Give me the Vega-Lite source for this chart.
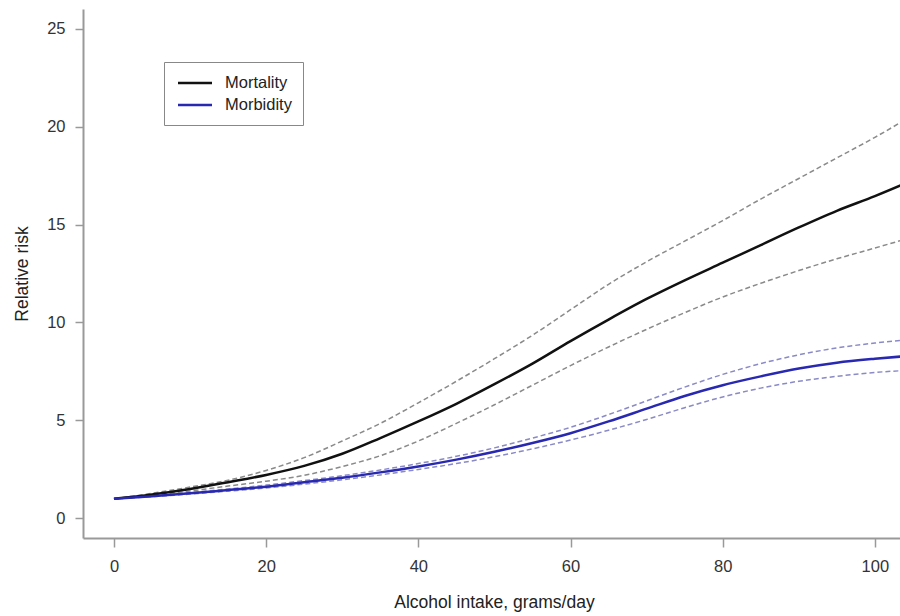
{
  "$schema": "https://vega.github.io/schema/vega-lite/v6.json",
  "width": 817,
  "height": 529,
  "autosize": {"type": "none"},
  "padding": {"left": 83, "top": 9, "right": 0, "bottom": 78},
  "background": "white",
  "config": {"view": {"stroke": null}, "font": "Liberation Sans"},
  "data": {
    "values": [
      {"dose": 0, "Mortality": 1.0, "Mortality upper": 1.0, "Mortality lower": 1.0, "Morbidity": 1.0, "Morbidity upper": 1.0, "Morbidity lower": 1.0},
      {"dose": 5, "Mortality": 1.22, "Mortality upper": 1.28, "Mortality lower": 1.18, "Morbidity": 1.13, "Morbidity upper": 1.15, "Morbidity lower": 1.11},
      {"dose": 10, "Mortality": 1.5, "Mortality upper": 1.6, "Mortality lower": 1.4, "Morbidity": 1.28, "Morbidity upper": 1.32, "Morbidity lower": 1.24},
      {"dose": 15, "Mortality": 1.85, "Mortality upper": 1.95, "Mortality lower": 1.65, "Morbidity": 1.45, "Morbidity upper": 1.5, "Morbidity lower": 1.39},
      {"dose": 20, "Mortality": 2.22, "Mortality upper": 2.45, "Mortality lower": 1.9, "Morbidity": 1.62, "Morbidity upper": 1.7, "Morbidity lower": 1.55},
      {"dose": 25, "Mortality": 2.68, "Mortality upper": 3.1, "Mortality lower": 2.2, "Morbidity": 1.85, "Morbidity upper": 1.93, "Morbidity lower": 1.75},
      {"dose": 30, "Mortality": 3.3, "Mortality upper": 3.95, "Mortality lower": 2.65, "Morbidity": 2.08, "Morbidity upper": 2.18, "Morbidity lower": 1.97},
      {"dose": 35, "Mortality": 4.1, "Mortality upper": 4.85, "Mortality lower": 3.2, "Morbidity": 2.35, "Morbidity upper": 2.47, "Morbidity lower": 2.22},
      {"dose": 40, "Mortality": 4.95, "Mortality upper": 5.9, "Mortality lower": 3.95, "Morbidity": 2.65, "Morbidity upper": 2.8, "Morbidity lower": 2.5},
      {"dose": 45, "Mortality": 5.85, "Mortality upper": 7.0, "Mortality lower": 4.85, "Morbidity": 3.0, "Morbidity upper": 3.17, "Morbidity lower": 2.8},
      {"dose": 50, "Mortality": 6.85, "Mortality upper": 8.15, "Mortality lower": 5.8, "Morbidity": 3.4, "Morbidity upper": 3.6, "Morbidity lower": 3.15},
      {"dose": 55, "Mortality": 7.9, "Mortality upper": 9.35, "Mortality lower": 6.8, "Morbidity": 3.85, "Morbidity upper": 4.1, "Morbidity lower": 3.55},
      {"dose": 60, "Mortality": 9.05, "Mortality upper": 10.65, "Mortality lower": 7.8, "Morbidity": 4.35, "Morbidity upper": 4.65, "Morbidity lower": 4.0},
      {"dose": 65, "Mortality": 10.15, "Mortality upper": 11.95, "Mortality lower": 8.75, "Morbidity": 4.95, "Morbidity upper": 5.3, "Morbidity lower": 4.5},
      {"dose": 70, "Mortality": 11.2, "Mortality upper": 13.1, "Mortality lower": 9.65, "Morbidity": 5.6, "Morbidity upper": 6.0, "Morbidity lower": 5.05},
      {"dose": 75, "Mortality": 12.15, "Mortality upper": 14.15, "Mortality lower": 10.5, "Morbidity": 6.25, "Morbidity upper": 6.7, "Morbidity lower": 5.65},
      {"dose": 80, "Mortality": 13.05, "Mortality upper": 15.2, "Mortality lower": 11.3, "Morbidity": 6.8, "Morbidity upper": 7.35, "Morbidity lower": 6.2},
      {"dose": 85, "Mortality": 13.95, "Mortality upper": 16.3, "Mortality lower": 12.0, "Morbidity": 7.25, "Morbidity upper": 7.9, "Morbidity lower": 6.65},
      {"dose": 90, "Mortality": 14.85, "Mortality upper": 17.35, "Mortality lower": 12.65, "Morbidity": 7.65, "Morbidity upper": 8.35, "Morbidity lower": 7.0},
      {"dose": 95, "Mortality": 15.7, "Mortality upper": 18.4, "Mortality lower": 13.25, "Morbidity": 7.95, "Morbidity upper": 8.7, "Morbidity lower": 7.25},
      {"dose": 100, "Mortality": 16.45, "Mortality upper": 19.45, "Mortality lower": 13.8, "Morbidity": 8.15, "Morbidity upper": 8.95, "Morbidity lower": 7.45},
      {"dose": 104, "Mortality": 17.1, "Mortality upper": 20.35, "Mortality lower": 14.25, "Morbidity": 8.28, "Morbidity upper": 9.1, "Morbidity lower": 7.55}
    ]
  },
  "transform": [
    {"fold": ["Mortality upper", "Mortality lower", "Morbidity upper", "Morbidity lower", "Mortality", "Morbidity"], "as": ["curve", "rr"]}
  ],
  "encoding": {
    "x": {
      "field": "dose",
      "type": "quantitative",
      "scale": {"domain": [-4.07, 103.3], "nice": false, "zero": false},
      "axis": {
        "values": [0, 20, 40, 60, 80, 100],
        "format": "d",
        "grid": false,
        "domainColor": "#999999",
        "domainWidth": 2,
        "tickColor": "#999999",
        "tickWidth": 1.5,
        "tickSize": 9,
        "labelFontSize": 16.5,
        "labelColor": "#333333",
        "labelPadding": 11.5,
        "labelFlush": false,
        "title": "Alcohol intake, grams/day",
        "titleFontSize": 17.5,
        "titleFontWeight": "normal",
        "titleColor": "#222222",
        "titleX": 411,
        "titleY": 69,
        "titleBaseline": "alphabetic"
      }
    },
    "y": {
      "field": "rr",
      "type": "quantitative",
      "scale": {"domain": [-1, 26], "nice": false, "zero": false},
      "axis": {
        "values": [0, 5, 10, 15, 20, 25],
        "grid": false,
        "domainColor": "#999999",
        "domainWidth": 2,
        "tickColor": "#999999",
        "tickWidth": 1.5,
        "tickSize": 8,
        "labelFontSize": 16.5,
        "labelColor": "#333333",
        "labelPadding": 10,
        "title": "Relative risk",
        "titleFontSize": 17.5,
        "titleFontWeight": "normal",
        "titleColor": "#222222",
        "titleX": -56,
        "titleY": 264.5,
        "titleBaseline": "alphabetic"
      }
    }
  },
  "layer": [
    {
      "transform": [{"filter": "datum.curve != 'Mortality' && datum.curve != 'Morbidity'"}],
      "mark": {"type": "line", "interpolate": "monotone", "strokeWidth": 1.5, "strokeDash": [5, 3], "clip": true},
      "encoding": {
        "color": {
          "field": "curve",
          "type": "nominal",
          "scale": {"domain": ["Mortality upper", "Mortality lower", "Morbidity upper", "Morbidity lower"], "range": ["#8a8a8a", "#8a8a8a", "#8a8ac6", "#8a8ac6"]},
          "legend": null
        }
      }
    },
    {
      "transform": [{"filter": "datum.curve == 'Mortality' || datum.curve == 'Morbidity'"}],
      "mark": {"type": "line", "interpolate": "monotone", "strokeWidth": 2.5, "clip": true},
      "encoding": {
        "color": {
          "field": "curve",
          "type": "nominal",
          "scale": {"domain": ["Mortality", "Morbidity"], "range": ["#111111", "#2828b0"]},
          "legend": {
            "orient": "none",
            "legendX": 81,
            "legendY": 53,
            "title": null,
            "symbolType": "M-2,0H2",
            "symbolSize": 289,
            "symbolStrokeWidth": 2.5,
            "symbolOffset": 10,
            "labelFontSize": 16.5,
            "labelColor": "#222222",
            "labelOffset": 20,
            "strokeColor": "#888888",
            "padding": 11,
            "rowPadding": 3
          }
        }
      }
    }
  ],
  "resolve": {"scale": {"color": "independent"}}
}
